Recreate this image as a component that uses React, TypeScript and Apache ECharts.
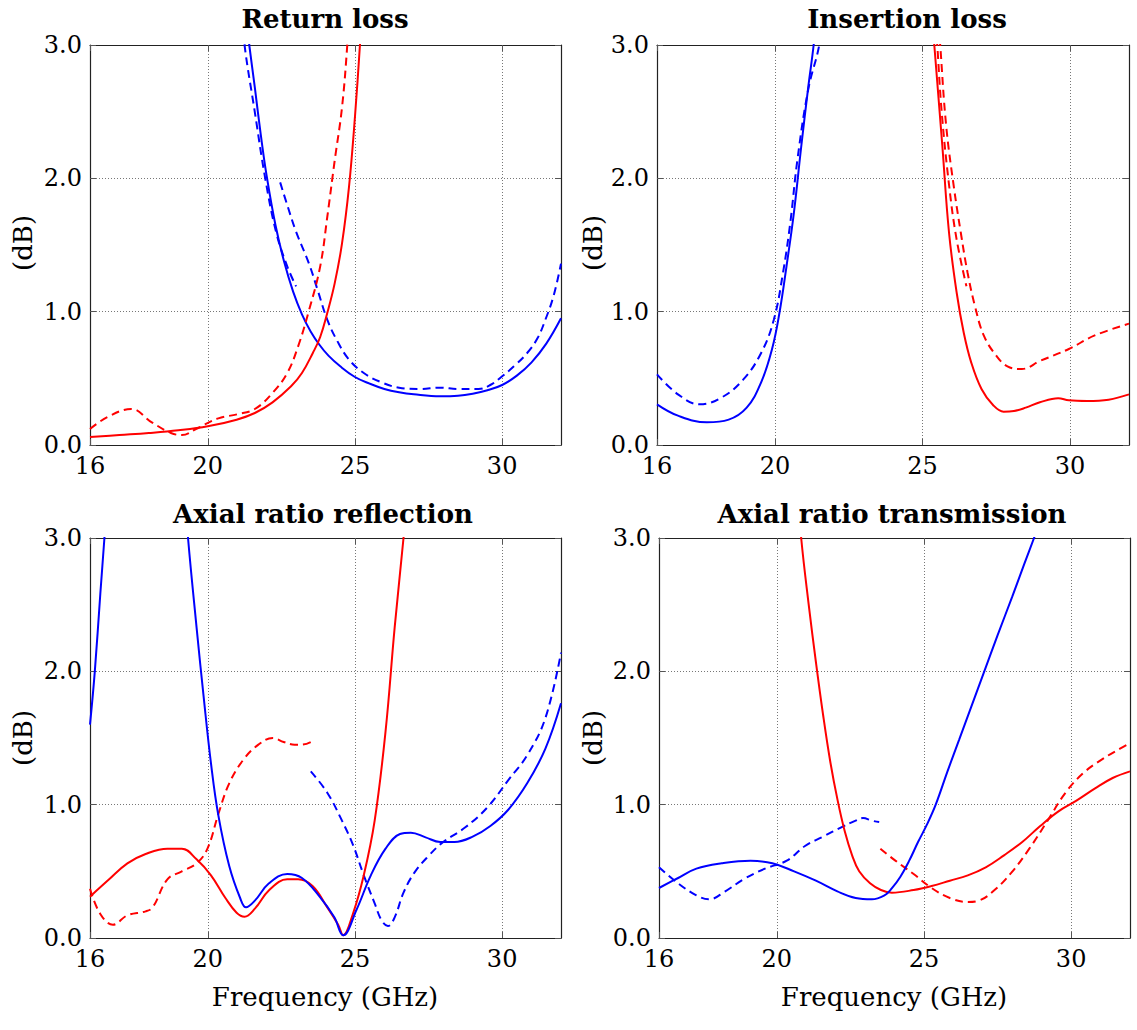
import React, { useEffect, useRef } from 'react';
import * as echarts from 'echarts';

// ---------- tick labels ----------
const xTickValues = [16, 20, 25, 30];

// ---------- titles ----------
const panelTitles = ['Return loss', 'Insertion loss', 'Axial ratio reflection', 'Axial ratio transmission'];
const xAxisName = 'Frequency (GHz)';
const yAxisName = '(dB)';

// ---------- Return loss ----------
const rlBlueSolid = [[21.3, 3.2], [21.41, 3.0], [21.6, 2.68], [21.8, 2.33], [22.0, 2.02], [22.3, 1.65], [22.6, 1.37], [22.9, 1.15], [23.2, 0.98], [23.5, 0.85], [23.8, 0.75], [24.1, 0.67], [24.5, 0.59], [25.0, 0.51], [25.5, 0.46], [26.0, 0.42], [26.5, 0.395], [27.0, 0.38], [27.9, 0.366], [28.5, 0.37], [29.0, 0.385], [29.5, 0.41], [30.0, 0.45], [30.5, 0.52], [31.0, 0.62], [31.5, 0.76], [32.0, 0.95]];
const rlBlueDashedA = [[21.2, 3.2], [21.25, 3.0], [21.59, 2.51], [21.96, 1.99], [22.33, 1.59], [22.7, 1.34], [23.0, 1.19]];
const rlBlueDashedB = [[22.46, 1.97], [22.7, 1.8], [23.0, 1.6], [23.44, 1.36], [23.75, 1.15], [24.06, 0.94], [24.4, 0.78], [24.8, 0.64], [25.3, 0.54], [25.9, 0.47], [26.5, 0.43], [27.2, 0.42], [27.9, 0.43], [28.5, 0.42], [29.2, 0.42], [29.6, 0.45], [30.0, 0.515], [30.4, 0.59], [30.85, 0.69], [31.2, 0.8], [31.47, 0.94], [31.75, 1.12], [32.0, 1.36]];
const rlRedSolid = [[16, 0.06], [17, 0.075], [18, 0.09], [19, 0.11], [20, 0.14], [20.98, 0.19], [21.6, 0.24], [22.2, 0.32], [22.83, 0.44], [23.2, 0.54], [23.57, 0.69], [23.82, 0.81], [24.06, 0.99], [24.31, 1.21], [24.56, 1.51], [24.8, 1.94], [25.0, 2.46], [25.17, 3.0], [25.22, 3.2]];
const rlRedDashed = [[16, 0.12], [16.6, 0.21], [17.4, 0.27], [18.1, 0.17], [18.75, 0.09], [19.12, 0.075], [19.6, 0.12], [20.36, 0.2], [21.0, 0.23], [21.6, 0.27], [22.2, 0.39], [22.7, 0.54], [23.07, 0.74], [23.44, 1.01], [23.82, 1.34], [24.06, 1.71], [24.31, 2.13], [24.56, 2.53], [24.74, 3.0], [24.78, 3.2]];

// ---------- Insertion loss ----------
const ilBlueSolid = [[16, 0.305], [16.71, 0.22], [17.69, 0.17], [18.43, 0.19], [19.04, 0.28], [19.53, 0.47], [19.9, 0.72], [20.15, 0.99], [20.39, 1.34], [20.64, 1.74], [20.88, 2.22], [21.13, 2.69], [21.31, 3.0], [21.36, 3.15]];
const ilBlueDashed = [[16, 0.53], [16.71, 0.38], [17.45, 0.305], [18.18, 0.355], [18.92, 0.49], [19.53, 0.69], [19.96, 0.94], [20.27, 1.29], [20.52, 1.67], [20.76, 2.14], [21.13, 2.67], [21.5, 3.0], [21.55, 3.15]];
const ilRedSolid = [[25.35, 3.15], [25.4, 3.0], [25.67, 2.25], [25.9, 1.59], [26.16, 1.14], [26.4, 0.84], [26.65, 0.62], [27.0, 0.42], [27.39, 0.3], [27.75, 0.25], [28.1, 0.255], [28.5, 0.28], [28.98, 0.32], [29.6, 0.35], [29.96, 0.335], [30.58, 0.33], [31.31, 0.34], [32.0, 0.38]];
const ilRedDashedA = [[25.45, 3.15], [25.5, 3.0], [25.65, 2.5], [25.9, 1.95], [26.15, 1.55], [26.49, 1.19]];
const ilRedDashedB = [[25.55, 3.15], [25.6, 3.0], [25.8, 2.4], [26.06, 1.94], [26.3, 1.59], [26.53, 1.29], [26.78, 1.04], [27.08, 0.82], [27.5, 0.67], [27.88, 0.59], [28.37, 0.57], [28.98, 0.63], [29.96, 0.72], [30.82, 0.82], [32.0, 0.91]];

// ---------- Axial ratio reflection ----------
const arBlueSolidA = [[16, 1.6], [16.16, 1.99], [16.35, 2.58], [16.49, 3.0], [16.55, 3.2]];
const arBlueSolidB = [[19.28, 3.2], [19.33, 3.0], [19.62, 2.33], [19.86, 1.81], [20.11, 1.31], [20.36, 0.92], [20.73, 0.54], [21.1, 0.3], [21.3, 0.23], [21.6, 0.28], [22.08, 0.41], [22.7, 0.48], [23.2, 0.45], [23.8, 0.31], [24.3, 0.155], [24.6, 0.02], [25.05, 0.21], [25.54, 0.47], [26.04, 0.67], [26.53, 0.78], [26.9, 0.79], [27.4, 0.755], [27.9, 0.72], [28.38, 0.72], [29.0, 0.76], [29.6, 0.84], [30.2, 0.96], [30.85, 1.16], [31.47, 1.42], [32.0, 1.76]];
const arBlueDashed = [[23.5, 1.25], [24.06, 1.09], [24.56, 0.88], [24.93, 0.7], [25.3, 0.47], [25.67, 0.26], [25.91, 0.13], [26.12, 0.09], [26.35, 0.155], [26.65, 0.34], [27.02, 0.49], [27.52, 0.62], [28.0, 0.72], [28.75, 0.83], [29.5, 0.98], [30.23, 1.19], [30.85, 1.37], [31.47, 1.65], [32.0, 2.14]];
const arRedSolid = [[16, 0.31], [16.65, 0.44], [17.27, 0.56], [17.89, 0.63], [18.63, 0.67], [19.12, 0.67], [19.62, 0.59], [20.11, 0.47], [20.6, 0.3], [20.98, 0.19], [21.25, 0.16], [21.6, 0.22], [22.09, 0.36], [22.7, 0.44], [23.07, 0.44], [23.56, 0.39], [24.06, 0.23], [24.43, 0.1], [24.6, 0.02], [24.93, 0.18], [25.3, 0.47], [25.67, 0.88], [26.04, 1.55], [26.35, 2.33], [26.65, 3.0], [26.7, 3.15]];
const arRedDashed = [[16, 0.37], [16.35, 0.18], [16.78, 0.1], [17.27, 0.17], [17.89, 0.2], [18.13, 0.23], [18.63, 0.44], [19.12, 0.5], [19.62, 0.56], [19.99, 0.67], [20.36, 0.93], [20.73, 1.16], [21.22, 1.34], [21.72, 1.45], [22.21, 1.5], [22.58, 1.47], [22.95, 1.45], [23.2, 1.45], [23.5, 1.47]];

// ---------- Axial ratio transmission ----------
const atBlueSolid = [[16, 0.375], [16.65, 0.45], [17.27, 0.52], [18.13, 0.56], [19.11, 0.58], [19.85, 0.56], [20.59, 0.5], [21.33, 0.43], [22.06, 0.35], [22.68, 0.3], [23.23, 0.29], [23.66, 0.32], [23.9, 0.37], [24.2, 0.46], [24.5, 0.58], [24.8, 0.72], [25.1, 0.85], [25.4, 1.0], [25.8, 1.25], [26.2, 1.49], [26.6, 1.73], [27.05, 2.0], [27.5, 2.27], [28.0, 2.56], [28.4, 2.8], [28.74, 3.0], [28.82, 3.05]];
const atBlueDashed = [[16, 0.53], [16.65, 0.41], [17.27, 0.32], [17.7, 0.29], [18.25, 0.35], [18.87, 0.44], [19.6, 0.52], [20.34, 0.58], [20.96, 0.69], [21.57, 0.76], [22.19, 0.83], [22.68, 0.88], [22.93, 0.9], [23.23, 0.88], [23.48, 0.87]];
const atRedSolid = [[20.78, 3.2], [20.83, 3.0], [21.08, 2.51], [21.33, 2.07], [21.57, 1.68], [21.82, 1.32], [22.07, 1.03], [22.31, 0.8], [22.56, 0.62], [22.8, 0.5], [23.17, 0.41], [23.54, 0.36], [23.91, 0.34], [24.65, 0.36], [25.26, 0.39], [25.88, 0.43], [26.49, 0.47], [27.1, 0.53], [27.72, 0.62], [28.34, 0.72], [28.95, 0.84], [29.57, 0.95], [30.18, 1.03], [30.8, 1.12], [31.41, 1.2], [32.0, 1.25]];
const atRedDashed = [[23.52, 0.67], [24.03, 0.58], [24.65, 0.48], [25.26, 0.375], [25.88, 0.3], [26.49, 0.27], [26.86, 0.28], [27.35, 0.35], [27.97, 0.49], [28.58, 0.67], [29.2, 0.88], [29.81, 1.09], [30.43, 1.24], [31.05, 1.34], [31.66, 1.42], [32.0, 1.46]];

const BLUE = '#0000ff';
const RED = '#ff0000';
const FONT = 'DejaVu Serif';

type Line = { data: number[][]; color: string; dashed: boolean };

const panelSeries: Line[][] = [
  [
    { data: rlBlueDashedA, color: BLUE, dashed: true },
    { data: rlBlueDashedB, color: BLUE, dashed: true },
    { data: rlBlueSolid, color: BLUE, dashed: false },
    { data: rlRedDashed, color: RED, dashed: true },
    { data: rlRedSolid, color: RED, dashed: false },
  ],
  [
    { data: ilBlueDashed, color: BLUE, dashed: true },
    { data: ilBlueSolid, color: BLUE, dashed: false },
    { data: ilRedDashedA, color: RED, dashed: true },
    { data: ilRedDashedB, color: RED, dashed: true },
    { data: ilRedSolid, color: RED, dashed: false },
  ],
  [
    { data: arRedDashed, color: RED, dashed: true },
    { data: arBlueDashed, color: BLUE, dashed: true },
    { data: arRedSolid, color: RED, dashed: false },
    { data: arBlueSolidA, color: BLUE, dashed: false },
    { data: arBlueSolidB, color: BLUE, dashed: false },
  ],
  [
    { data: atBlueDashed, color: BLUE, dashed: true },
    { data: atRedDashed, color: RED, dashed: true },
    { data: atRedSolid, color: RED, dashed: false },
    { data: atBlueSolid, color: BLUE, dashed: false },
  ],
];

const grids = [
  { left: 90, top: 45, width: 471, height: 400 },
  { left: 657, top: 45, width: 472, height: 400 },
  { left: 90, top: 538, width: 471, height: 400 },
  { left: 659, top: 538, width: 471, height: 400 },
];

const titlePos = [
  [325, 19],
  [907, 19],
  [323, 514],
  [892, 514],
];
const yNamePos = [
  [23, 243],
  [593, 243],
  [23, 738],
  [593, 738],
];

export default function App() {
  const ref = useRef<HTMLDivElement>(null);
  useEffect(() => {
    if (!ref.current) return;
    const chart = echarts.init(ref.current, null, { renderer: 'svg' });
    const frame = { color: '#222', width: 1.2 };
    const tickStyle = { color: '#555', width: 1 };
    const xAxes: any[] = [];
    const yAxes: any[] = [];
    grids.forEach((g, i) => {
      xAxes.push({
        gridIndex: i, type: 'value', min: 16, max: 32, position: 'bottom',
        axisLine: { show: true, onZero: false, lineStyle: frame },
        axisTick: { show: true, inside: true, length: 6, customValues: xTickValues, lineStyle: tickStyle },
        axisLabel: { show: true, customValues: xTickValues, fontFamily: FONT, fontSize: 24, color: '#000', margin: 9 },
        splitLine: { show: true, lineStyle: { type: [1, 2], color: '#777', width: 1 } },
      });
      xAxes.push({
        gridIndex: i, type: 'value', min: 16, max: 32, position: 'top',
        axisLine: { show: true, onZero: false, lineStyle: frame },
        axisTick: { show: true, inside: true, length: 6, customValues: xTickValues, lineStyle: tickStyle },
        axisLabel: { show: false },
        splitLine: { show: false },
      });
      yAxes.push({
        gridIndex: i, type: 'value', min: 0, max: 3, interval: 1, position: 'left',
        axisLine: { show: true, onZero: false, lineStyle: frame },
        axisTick: { show: true, inside: true, length: 6, lineStyle: tickStyle },
        axisLabel: { show: true, fontFamily: FONT, fontSize: 24, color: '#000', margin: 8, formatter: (v: number) => v.toFixed(1) },
        splitLine: { show: true, lineStyle: { type: [1, 2], color: '#777', width: 1 } },
      });
      yAxes.push({
        gridIndex: i, type: 'value', min: 0, max: 3, interval: 1, position: 'right',
        axisLine: { show: true, onZero: false, lineStyle: frame },
        axisTick: { show: true, inside: true, length: 6, lineStyle: tickStyle },
        axisLabel: { show: false },
        splitLine: { show: false },
      });
    });

    const series: any[] = [];
    panelSeries.forEach((lines, i) => {
      lines.forEach((l) => {
        series.push({
          type: 'line', xAxisIndex: 2 * i, yAxisIndex: 2 * i,
          data: l.data, showSymbol: false, symbol: 'none', smooth: 0.4, clip: true,
          lineStyle: { color: l.color, width: 2, type: l.dashed ? [8, 5] : 'solid' },
          silent: true,
        });
      });
    });

    const graphic: any[] = [];
    panelTitles.forEach((t, i) => {
      graphic.push({
        type: 'text', x: titlePos[i][0], y: titlePos[i][1],
        style: { text: t, font: `bold 26px "${FONT}"`, fill: '#000', textAlign: 'center', textVerticalAlign: 'middle' },
      });
      graphic.push({
        type: 'text', x: yNamePos[i][0], y: yNamePos[i][1], rotation: Math.PI / 2,
        style: { text: yAxisName, font: `26px "${FONT}"`, fill: '#000', textAlign: 'center', textVerticalAlign: 'middle' },
      });
    });
    [[325, 997], [894, 997]].forEach((p) => {
      graphic.push({
        type: 'text', x: p[0], y: p[1],
        style: { text: xAxisName, font: `26px "${FONT}"`, fill: '#000', textAlign: 'center', textVerticalAlign: 'middle' },
      });
    });

    chart.setOption({
      animation: false,
      backgroundColor: '#fff',
      grid: grids.map((g) => ({ ...g, containLabel: false })),
      xAxis: xAxes,
      yAxis: yAxes,
      series,
      graphic,
    });
    return () => chart.dispose();
  }, []);
  return <div ref={ref} style={{ position: 'absolute', left: 0, top: 0, width: 1137, height: 1030 }} />;
}
